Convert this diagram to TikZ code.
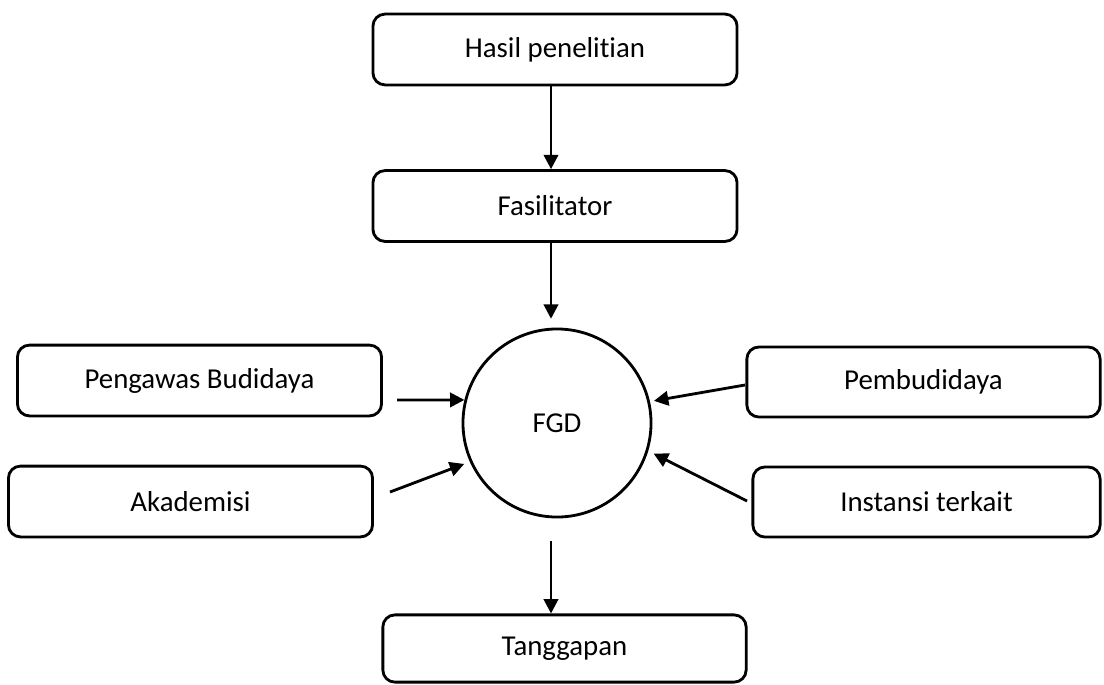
\documentclass[tikz,border=0pt]{standalone}
\usepackage{fontspec}
\setmainfont[Ligatures=NoCommon]{Carlito}
\usetikzlibrary{arrows.meta,calc}

\begin{document}
\begin{tikzpicture}[x=0.025cm,y=-0.025cm,
    kotak/.style={draw,line width=2pt,rounded corners=0.3cm,minimum width=9.1cm,minimum height=1.77cm,inner sep=0pt,font=\fontsize{20.5}{24}\selectfont},
    panah/.style={-{Triangle[length=0.36cm,width=0.36cm]},line width=2pt}]
        % Batas gambar
        \useasboundingbox (0,0) rectangle (1104,684);

        % Kotak atas
        \node[kotak] (hasil) at (555,49.5) {Hasil penelitian};
        \node[kotak] (fasil) at (555,206) {Fasilitator};

        % Lingkaran FGD
        \node[draw,circle,line width=2pt,minimum size=4.7cm,inner sep=0pt,font=\fontsize{20.5}{24}\selectfont] (fgd) at (557,423) {FGD};

        % Kotak kiri dan kanan
        \node[kotak] (awas) at (199.5,380.5) {Pengawas Budidaya};
        \node[kotak] (akad) at (190.5,501.5) {Akademisi};
        \node[kotak,minimum width=8.83cm,minimum height=1.75cm] (budi) at (923.5,382) {Pembudidaya};
        \node[kotak,minimum width=8.68cm,minimum height=1.75cm] (inst) at (926.5,502) {Instansi terkait};

        % Kotak bawah
        \node[kotak,minimum width=9.08cm,minimum height=1.68cm] (tangg) at (564.5,648.5) {Tanggapan};

        % Pangkal panah
        \coordinate (pAwas) at (397,400);
        \coordinate (pAkad) at (390,492);
        \coordinate (pBudi) at (745,385);
        \coordinate (pInst) at (747,501);

        % Panah
        \draw[panah] (hasil.south -| 551,0) -- (fasil.north -| 551,0);
        \draw[panah,shorten >=0.22cm] (fasil.south -| 551,0) -- (fgd.north -| 551,0);
        \draw[panah] (pAwas) -- (fgd.166);
        \draw[panah,shorten >=0.15cm] (pAkad) -- (fgd.204);
        \draw[panah,shorten >=0.1cm] (pBudi) -- (fgd.13);
        \draw[panah,shorten >=0.15cm] (pInst) -- (fgd.-17);
        \draw[panah,shorten <=0.57cm] (fgd.south -| 551,0) -- (tangg.north -| 551,0);
    \end{tikzpicture}
\end{document}
